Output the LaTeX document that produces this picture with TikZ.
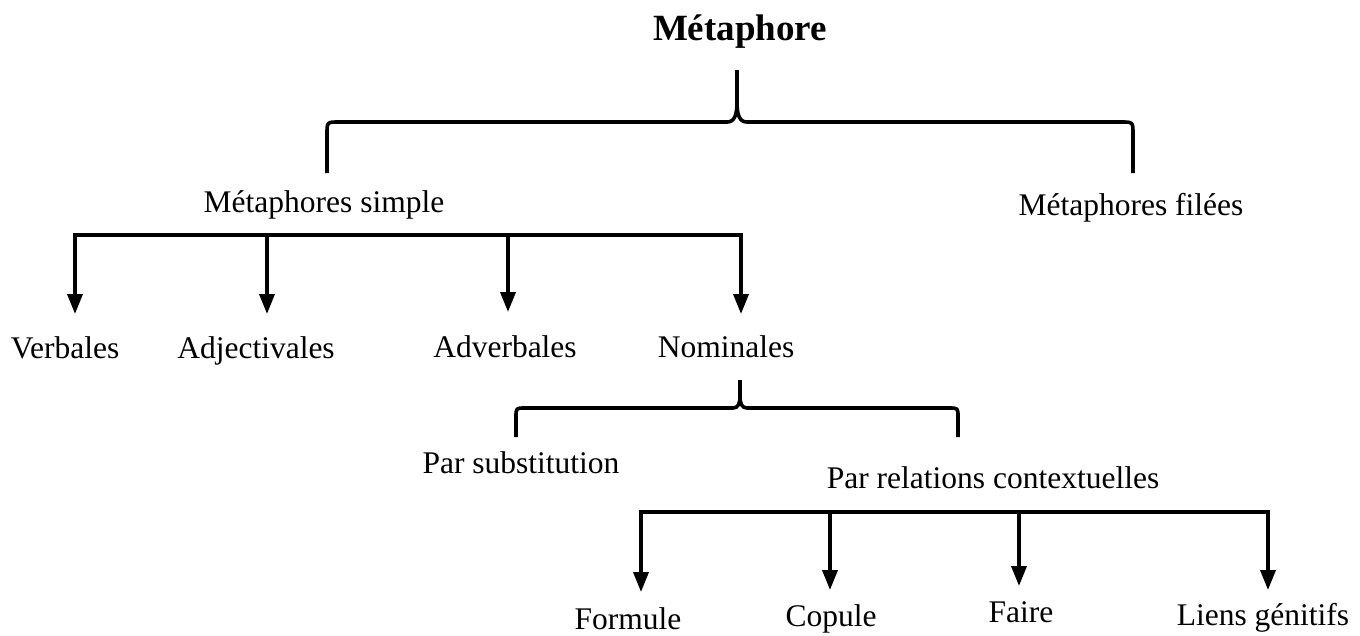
\documentclass[tikz,border=0pt]{standalone}
\usepackage{fontspec}
\setmainfont{Liberation Serif}
\usetikzlibrary{arrows.meta}
\begin{document}
\begin{tikzpicture}[x=1pt,y=-1pt,
  lbl/.style={inner sep=0pt,anchor=base,font=\fontsize{31.5}{36}\selectfont},
  ttl/.style={inner sep=0pt,anchor=base,font=\fontsize{37}{42}\selectfont\bfseries},
  wire/.style={line width=3.6pt,line cap=rect},
  brace/.style={line width=3.6pt,line join=round},
  down/.style={line width=3.6pt,-{Triangle[width=15pt,length=20pt]}}]
\useasboundingbox (0,0) rectangle (1360,635);
\fill[white] (0,0) rectangle (1360,635);

% labels (placed on their baselines)
\node[ttl] (root) at (740,40) {Métaphore};
\node[lbl] (simple) at (324,212) {Métaphores simple};
\node[lbl] (filees) at (1131,215) {Métaphores filées};
\node[lbl] (verb) at (65,358) {Verbales};
\node[lbl] (adj) at (256,358) {Adjectivales};
\node[lbl] (adv) at (505,357) {Adverbales};
\node[lbl] (nom) at (726,357) {Nominales};
\node[lbl] (subst) at (521,473) {Par substitution};
\node[lbl] (rel) at (993,488) {Par relations contextuelles};
\node[lbl] (form) at (628,629) {Formule};
\node[lbl] (cop) at (831,626) {Copule};
\node[lbl] (faire) at (1021,622) {Faire};
\node[lbl] (liens) at (1263,625) {Liens génitifs};

% top brace
\coordinate (t1) at (737,70);
\coordinate (t1a) at (327,173);
\coordinate (t1b) at (1133,173);
\draw[brace] (t1a) -- (327,134) .. controls (327,122) .. (339,122) -- (727,122)
  .. controls (734,122) and (737,116) .. (737,102) -- (t1);
\draw[brace] (737,102) .. controls (737,116) and (740,122) .. (747,122) -- (1121,122)
  .. controls (1133,122) .. (1133,134) -- (t1b);

% first row of arrows
\coordinate (b1l) at (75,235);
\coordinate (b1r) at (741,235);
\draw[wire] (b1l) -- (b1r);
\draw[down] (b1l) -- (75,314);
\draw[down] (267,235) -- (267,314);
\draw[down] (508,235) -- (508,312);
\draw[down] (b1r) -- (741,314);

% second brace
\coordinate (t2) at (740,380);
\coordinate (t2a) at (516,437);
\coordinate (t2b) at (958,437);
\draw[brace] (t2a) -- (516,417) .. controls (516,408) .. (525,408) -- (733,408)
  .. controls (738,408) and (740,404) .. (740,396) -- (t2);
\draw[brace] (740,396) .. controls (740,404) and (742,408) .. (747,408) -- (949,408)
  .. controls (958,408) .. (958,417) -- (t2b);

% second row of arrows
\coordinate (b2l) at (641,512);
\coordinate (b2r) at (1268,512);
\draw[wire] (b2l) -- (b2r);
\draw[down] (b2l) -- (641,592);
\draw[down] (830,512) -- (830,590);
\draw[down] (1019,512) -- (1019,586);
\draw[down] (b2r) -- (1268,590);
\end{tikzpicture}
\end{document}
